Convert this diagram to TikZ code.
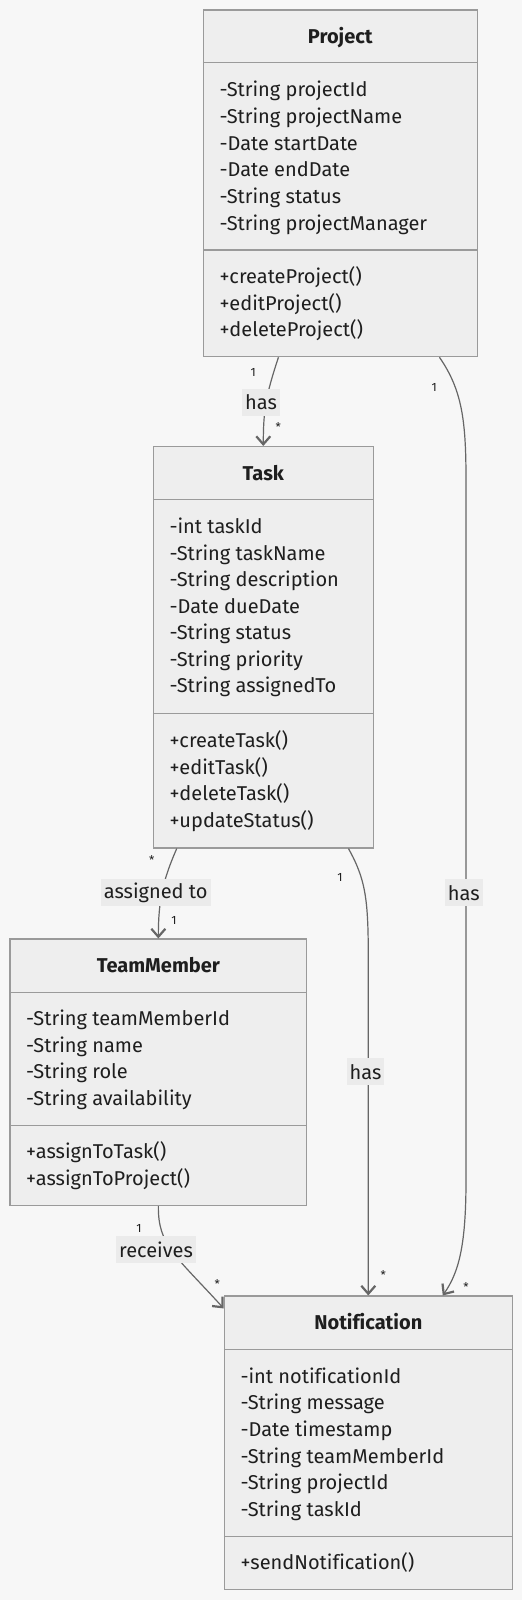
\documentclass[tikz,border=0pt]{standalone}
\usepackage{fontspec}
\setmainfont{Fira Sans}[Ligatures=NoCommon]
\usetikzlibrary{arrows.meta,calc}
\definecolor{bgc}{HTML}{F7F7F7}
\definecolor{boxfill}{HTML}{EEEEEE}
\definecolor{boxline}{HTML}{9A9A9A}
\definecolor{edgec}{HTML}{666666}
\definecolor{labelbg}{HTML}{EBEBEB}
\definecolor{textc}{HTML}{1E1E1E}
\begin{document}
\begin{tikzpicture}[x=1pt,y=-1pt,
  cls/.style={draw=boxline, fill=boxfill, line width=1.1pt, inner sep=0pt},
  divider/.style={draw=boxline, line width=1.1pt},
  txt/.style={anchor=base west, inner sep=0pt, text=textc, font=\fontsize{20}{20}\selectfont},
  ttl/.style={anchor=base, inner sep=0pt, text=textc, font=\fontsize{20}{20}\selectfont\bfseries},
  edge/.style={draw=edgec, line width=1.2pt, -{Straight Barb[length=8pt,width=14pt,line width=2.2pt]}},
  elabel/.style={fill=labelbg, text=textc, inner xsep=3pt, inner ysep=0pt, minimum height=27pt, font=\fontsize{20}{20}\selectfont},
  mult/.style={text=textc, inner sep=0pt, font=\fontsize{12}{12}\selectfont}]
\useasboundingbox[fill=bgc] (0,0) rectangle (522,1600);

% ---------- Project ----------
\node[cls, minimum width=274pt, minimum height=346.7pt] (project) at (340.3,183.35) {};
\draw[divider] (project.west |- 0,62.7) -- (project.east |- 0,62.7);
\draw[divider] (project.west |- 0,250) -- (project.east |- 0,250);
\node[ttl] (pt) at (340.3,43.3) {Project};
\foreach \t [count=\i] in {-String projectId,-String projectName,-Date startDate,-Date endDate,-String status,-String projectManager}
  \node[txt] (pa\i) at (219.3,{96.7+(\i-1)*26.67}) {\t};
\foreach \t [count=\i] in {+createProject(),+editProject(),+deleteProject()}
  \node[txt] (pm\i) at (219.3,{283.5+(\i-1)*26.67}) {\t};

% ---------- Task ----------
\node[cls, minimum width=220pt, minimum height=401.5pt] (task) at (263.3,647.25) {};
\draw[divider] (task.west |- 0,499.6) -- (task.east |- 0,499.6);
\draw[divider] (task.west |- 0,713.7) -- (task.east |- 0,713.7);
\node[ttl] (tt) at (263.3,480.3) {Task};
\foreach \t [count=\i] in {-int taskId,-String taskName,-String description,-Date dueDate,-String status,-String priority,-String assignedTo}
  \node[txt] (ta\i) at (169.3,{533.6+(\i-1)*26.5}) {\t};
\foreach \t [count=\i] in {+createTask(),+editTask(),+deleteTask(),+updateStatus()}
  \node[txt] (tm\i) at (169.3,{747.5+(\i-1)*26.6}) {\t};

% ---------- TeamMember ----------
\node[cls, minimum width=296.7pt, minimum height=266.5pt] (team) at (158.35,1072.25) {};
\draw[divider] (team.west |- 0,992.3) -- (team.east |- 0,992.3);
\draw[divider] (team.west |- 0,1125.7) -- (team.east |- 0,1125.7);
\node[ttl] (mt) at (158.35,972.7) {TeamMember};
\foreach \t [count=\i] in {-String teamMemberId,-String name,-String role,-String availability}
  \node[txt] (ma\i) at (26,{1025.5+(\i-1)*26.67}) {\t};
\foreach \t [count=\i] in {+assignToTask(),+assignToProject()}
  \node[txt] (mm\i) at (26,{1158.8+(\i-1)*26.67}) {\t};

% ---------- Notification ----------
\node[cls, minimum width=288pt, minimum height=293.3pt] (notif) at (368.3,1442.65) {};
\draw[divider] (notif.west |- 0,1349.3) -- (notif.east |- 0,1349.3);
\draw[divider] (notif.west |- 0,1536.7) -- (notif.east |- 0,1536.7);
\node[ttl] (nt) at (368.3,1329.7) {Notification};
\foreach \t [count=\i] in {-int notificationId,-String message,-Date timestamp,-String teamMemberId,-String projectId,-String taskId}
  \node[txt] (na\i) at (240.3,{1383.2+(\i-1)*26.67}) {\t};
\node[txt] (nm1) at (240.3,1569.8) {+sendNotification()};

% ---------- Edges ----------
\draw[edge] ($(project.south west)+(75.7,0)$) .. controls (266,395) and (263.3,410) .. (task.north);
\draw[edge] ($(project.south west)+(236.7,0)$) .. controls (462,390) and (466,420) .. (466,480) -- (466,1180) .. controls (466,1245) and (459,1272) .. ($(notif.north west)+(219,0)$);
\draw[edge] ($(task.south west)+(24,0)$) .. controls (163,880) and (158.35,900) .. (team.north);
\draw[edge] ($(task.south west)+(195.7,0)$) .. controls (366,880) and (368.3,900) .. (368.3,960) -- (notif.north);
\draw[edge] (team.south) .. controls (158,1245) and (175,1255) .. ($(notif.north west)+(0,13)$);

% ---------- Edge labels ----------
\node[elabel] (l1) at (261,402) {has};
\node[elabel] (l2) at (463.8,892.7) {has};
\node[elabel] (l3) at (155.7,892.7) {assigned to};
\node[elabel] (l4) at (365.5,1071.7) {has};
\node[elabel] (l5) at (156,1249.5) {receives};

% ---------- Multiplicities ----------
\node[mult] (m1) at (253.3,372) {1};
\node[mult] (m2) at (278.3,427) {*};
\node[mult] (m3) at (434.3,387) {1};
\node[mult] (m4) at (466,1287) {*};
\node[mult] (m5) at (151.7,860) {*};
\node[mult] (m6) at (174,920) {1};
\node[mult] (m7) at (340,877.3) {1};
\node[mult] (m8) at (383.3,1275) {*};
\node[mult] (m9) at (139,1228.3) {1};
\node[mult] (m10) at (217.3,1284) {*};
\end{tikzpicture}
\end{document}
